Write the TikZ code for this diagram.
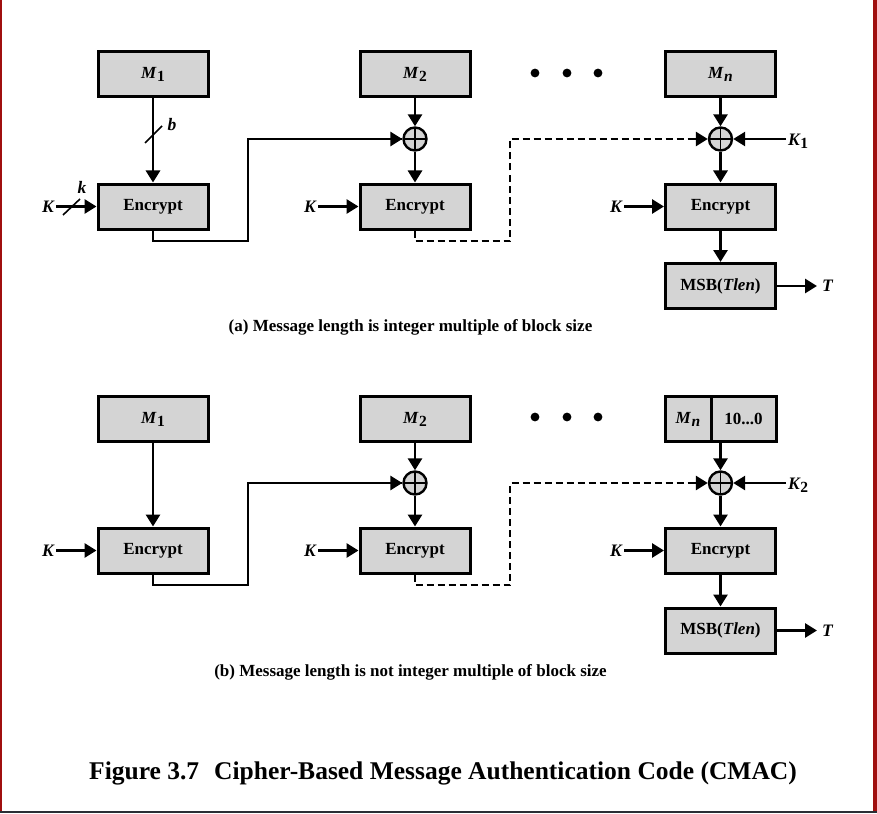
\documentclass[tikz,border=0pt]{standalone}
\usepackage{fontspec}
\setmainfont{Liberation Serif}
\usetikzlibrary{arrows.meta}
\definecolor{boxgray}{HTML}{D4D4D4}
\definecolor{framered}{HTML}{A00F0F}
\definecolor{bardark}{HTML}{2A2E35}
\newcommand\Mlab[1]{\textit{M}\kern0.5pt\raisebox{-0.4ex}{\fontsize{15.5}{16}\selectfont #1}}
\newcommand\Klab[1]{\textit{K}\kern0.5pt\raisebox{-0.4ex}{\fontsize{15.5}{16}\selectfont\upshape #1}}
\tikzset{
  blk/.style={draw=black, line width=3pt, fill=boxgray, minimum width=110pt, minimum height=45pt, inner sep=0pt, font=\fontsize{17}{20}\selectfont\bfseries},
  xorc/.style={circle, draw=black, line width=2.4pt, fill=boxgray, minimum size=23pt, inner sep=0pt,
    path picture={\draw[line width=1.8pt] (path picture bounding box.north) -- (path picture bounding box.south) (path picture bounding box.west) -- (path picture bounding box.east);}},
  conn/.style={line width=2.8pt},
  arr/.style={conn, -{Triangle[length=12pt,width=14pt]}},
  dsh/.style={dash pattern=on 7pt off 4pt},
  lbl/.style={font=\fontsize{17.5}{20}\selectfont\bfseries\itshape, inner sep=2pt},
  captxt/.style={font=\fontsize{17}{20}\selectfont\bfseries, inner sep=0pt},
  dotc/.style={fill=black}
}
\begin{document}
\begin{tikzpicture}[x=1pt,y=-1pt]
\useasboundingbox (0,0) rectangle (877,813);
\fill[white] (0,0) rectangle (877,813);
\fill[framered] (0,0) rectangle (1.6,811);
\fill[framered] (873.2,0) rectangle (876.8,811);
\fill[bardark] (0,810.5) rectangle (877,813);

% ---------------- (a) ----------------
\node[blk] (m1a) at (153,74.5) {\Mlab{1}};
\node[blk] (e1a) at (153,206.5) {Encrypt};
\node[blk] (m2a) at (415,74.5) {\Mlab{2}};
\node[xorc] (x2a) at (415,139) {};
\node[blk] (e2a) at (415,206.5) {Encrypt};
\node[blk] (mna) at (720.5,74.5) {\Mlab{\textit{n}}};
\node[xorc] (xna) at (720.5,139) {};
\node[blk] (ena) at (720.5,206.5) {Encrypt};
\node[blk] (msba) at (720.5,286) {MSB(\textit{Tlen})};
\fill[dotc] (535,73) circle (4.4pt) (567,73) circle (4.4pt) (598,73) circle (4.4pt);

\draw[arr] (m1a) -- (e1a);
\draw[line width=1.6pt] (145,143) -- (162,126);
\node[lbl] (lb) at (172,125) {b};
\node[lbl, anchor=east] (k0a) at (56,206.5) {K};
\draw[arr] (k0a.east) -- (e1a.west);
\draw[line width=1.6pt] (63,215) -- (80,199);
\node[lbl] (lk) at (82,187) {k};

\draw[conn] (e1a.south) |- (248,241) |- (x2a.west);
\draw[arr] (248,139) -- (x2a.west);
\draw[arr] (m2a) -- (x2a);
\draw[arr] (x2a) -- (e2a);
\node[lbl, anchor=east] (k2a) at (318,206.5) {K};
\draw[arr] (k2a.east) -- (e2a.west);

\draw[conn, dsh] (e2a.south) |- (510,241) |- ([xshift=-12pt]xna.west);
\draw[arr] ([xshift=-13pt]xna.west) -- (xna.west);
\draw[arr] (mna) -- (xna);
\draw[arr] (xna) -- (ena);
\node[lbl, anchor=west] (kk1) at (786,141) {\Klab{1}};
\draw[arr] (kk1.west |- xna) -- (xna.east);
\node[lbl, anchor=east] (k3a) at (624,206.5) {K};
\draw[arr] (k3a.east) -- (ena.west);
\draw[arr] (ena) -- (msba);
\node[lbl, anchor=west, inner sep=5pt] (ta) at (817,286) {T};
\draw[arr] (msba.east) -- (ta.west);

\node[captxt] (capa) at (410.5,327) {(a) Message length is integer multiple of block size};

% ---------------- (b) ----------------
\node[blk] (m1b) at (153,419) {\Mlab{1}};
\node[blk] (e1b) at (153,550.5) {Encrypt};
\node[blk] (m2b) at (415,419) {\Mlab{2}};
\node[xorc] (x2b) at (415,483) {};
\node[blk] (e2b) at (415,550.5) {Encrypt};
\node[blk, minimum width=46pt] (mnl) at (688,419) {\Mlab{\textit{n}}};
\node[blk, minimum width=65pt] (mnr) at (743.5,419) {10...0};
\node[xorc] (xnb) at (720.5,483) {};
\node[blk] (enb) at (720.5,550.5) {Encrypt};
\node[blk] (msbb) at (720.5,630.5) {MSB(\textit{Tlen})};
\fill[dotc] (535,417) circle (4.4pt) (567,417) circle (4.4pt) (598,417) circle (4.4pt);

\draw[arr] (m1b) -- (e1b);
\node[lbl, anchor=east] (k0b) at (56,550.5) {K};
\draw[arr] (k0b.east) -- (e1b.west);

\draw[conn] (e1b.south) |- (248,585) |- (x2b.west);
\draw[arr] (248,483) -- (x2b.west);
\draw[arr] (m2b) -- (x2b);
\draw[arr] (x2b) -- (e2b);
\node[lbl, anchor=east] (k2b) at (318,550.5) {K};
\draw[arr] (k2b.east) -- (e2b.west);

\draw[conn, dsh] (e2b.south) |- (510,585) |- ([xshift=-12pt]xnb.west);
\draw[arr] ([xshift=-13pt]xnb.west) -- (xnb.west);
\draw[arr] (mnr.south -| xnb) -- (xnb);
\draw[arr] (xnb) -- (enb);
\node[lbl, anchor=west] (kk2) at (786,485) {\Klab{2}};
\draw[arr] (kk2.west |- xnb) -- (xnb.east);
\node[lbl, anchor=east] (k3b) at (624,550.5) {K};
\draw[arr] (k3b.east) -- (enb.west);
\draw[arr] (enb) -- (msbb);
\node[lbl, anchor=west, inner sep=5pt] (tb) at (817,630.5) {T};
\draw[arr] (msbb.east) -- (tb.west);

\node[captxt] (capb) at (410.5,672) {(b) Message length is not integer multiple of block size};

\node[font=\fontsize{25.5}{30}\selectfont\bfseries, inner sep=0pt] (fig) at (443,773) {Figure 3.7\hspace{8.6pt} Cipher-Based Message Authentication Code (CMAC)};
\end{tikzpicture}
\end{document}
